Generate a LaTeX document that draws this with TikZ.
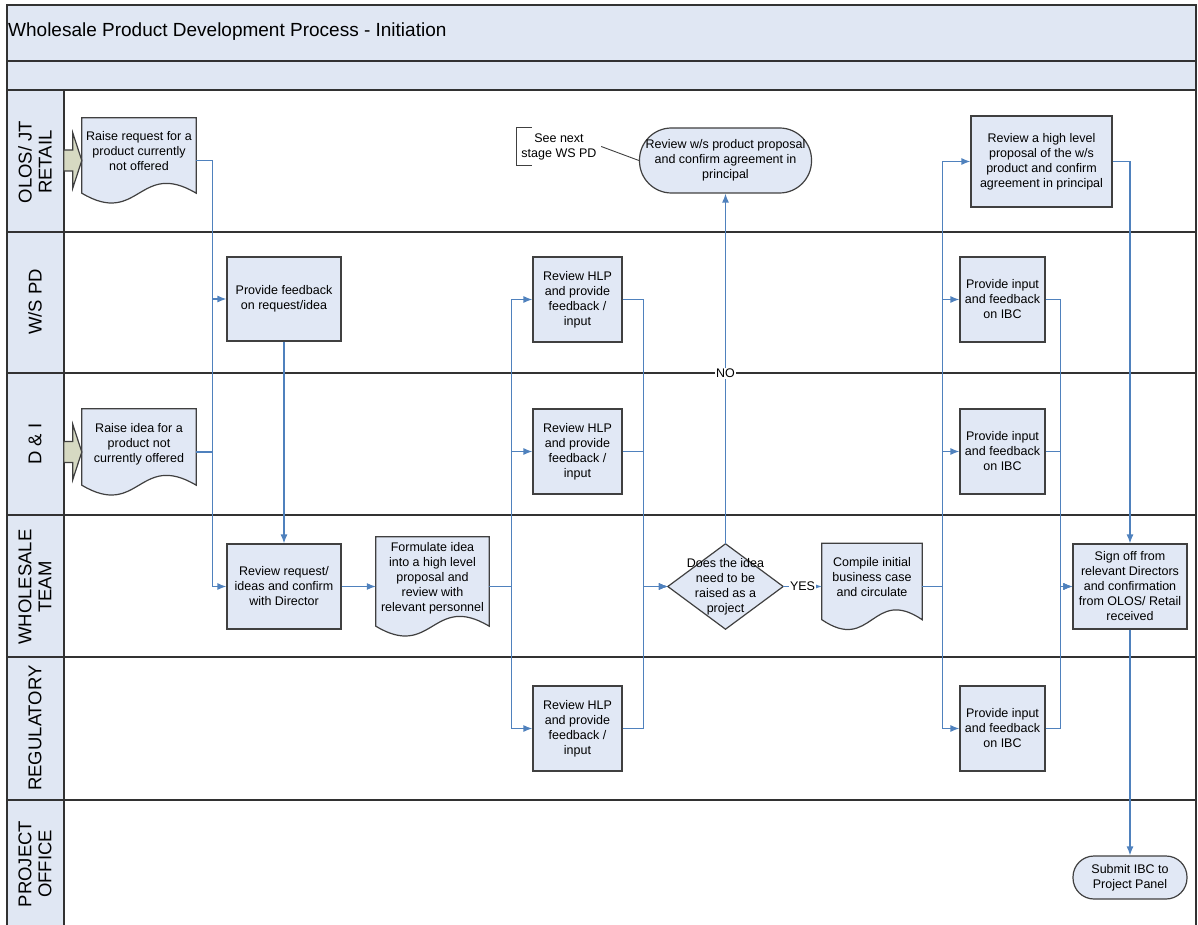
\documentclass[tikz,border=0pt]{standalone}
\usepackage{fontspec}
\setmainfont{Liberation Sans}
\usetikzlibrary{arrows.meta,backgrounds}

\definecolor{panefill}{RGB}{224,231,243}
\definecolor{taskfill}{RGB}{225,232,245}
\definecolor{taskline}{RGB}{64,64,64}
\definecolor{laneline}{RGB}{50,50,50}
\definecolor{flowblue}{RGB}{79,129,189}
\definecolor{inputfill}{RGB}{214,217,194}

\newcommand{\taskfont}{\fontsize{12.5}{15}\selectfont}
\newcommand{\lanefont}{\fontsize{18.5}{20}\selectfont}
%% pushes the text of a document shape above its wavy edge
\newcommand{\docgap}{\\[4pt]\mbox{}}

\tikzset{
    pane/.style={fill=panefill, draw=laneline, line width=1.6pt},
    lanerule/.style={draw=laneline, line width=1.6pt},
    lanename/.style={rotate=90, font=\lanefont, align=center},
    task/.style={draw=taskline, fill=taskfill, line width=1.2pt,
        font=\taskfont, align=center, inner sep=1pt},
    terminal/.style={task, rounded corners=#1},
    terminal/.default=20pt,
    doctext/.style={font=\taskfont, align=center, inner sep=1pt},
    docshape/.style={draw=taskline, fill=taskfill, line width=1.2pt},
    flow/.style={draw=flowblue, line width=1.2pt, -{Latex[length=9pt,width=7pt]}},
    wire/.style={draw=flowblue, line width=1.2pt},
    flowlabel/.style={fill=white, inner sep=1pt, font=\taskfont},
}

\begin{document}
\begin{tikzpicture}[x=1pt, y=-1pt]
        \useasboundingbox (0,0) rectangle (1198,925);
        %% Title bands and lane column
        \draw[pane] (7,5) rectangle (1196,61);
        \draw[pane] (7,61) rectangle (1196,90);
        \draw[pane] (7,90) rectangle (64,940);
        \node[anchor=base west, inner sep=0pt, font=\fontsize{19}{22}\selectfont] (title) at (8,37)
            {Wholesale Product Development Process - Initiation};
        %% Lanes
        \draw[lanerule] (1196,90) -- (1196,940);
        \foreach \y in {232,373,515,657,800}
            \draw[lanerule] (7,\y) -- (1196,\y);
        \node[lanename] (olos) at (35,162) {OLOS/ JT\\RETAIL};
        \node[lanename] (wspd) at (35,302) {W/S PD};
        \node[lanename] (dandi) at (35,444) {D \& I};
        \node[lanename] (wsteam) at (35,587) {WHOLESALE\\TEAM};
        \node[lanename] (reg) at (35,728) {REGULATORY};
        \node[lanename] (pmo) at (35,864) {PROJECT\\OFFICE};

        %% Requests and ideas
        \node[doctext, minimum width=114, minimum height=85] (req) at (139,160.5)
            {Raise request for a\\product currently\\not offered\docgap};
        \node[doctext, minimum width=114, minimum height=86] (idea) at (139,452)
            {Raise idea for a\\product not\\currently offered\docgap};
        \foreach \n in {req,idea}
            \draw[docshape, fill=inputfill] (\n.west) -- ++(-9,-27.5) -- ++(0,17) -- ++(-9,0)
                -- ++(0,21) -- ++(9,0) -- ++(0,17) -- cycle;
        \node[task, minimum width=114, minimum height=84] (fb) at (284,299)
            {Provide feedback\\on request/idea};
        \node[task, minimum width=114, minimum height=85] (rev) at (284,586.5)
            {Review request/\\ideas and confirm\\with Director};
        \node[doctext, minimum width=113, minimum height=99] (form) at (432.5,586.5)
            {Formulate idea\\into a high level\\proposal and\\review with\\relevant personnel\docgap};

        %% HLP reviews
        \node[task, minimum width=89, minimum height=85] (hlpa) at (577.5,299.5)
            {Review HLP\\and provide\\feedback /\\input};
        \node[task, minimum width=89, minimum height=85] (hlpb) at (577.5,451.5)
            {Review HLP\\and provide\\feedback /\\input};
        \node[task, minimum width=89, minimum height=85] (hlpc) at (577.5,728.5)
            {Review HLP\\and provide\\feedback /\\input};

        %% Decision
        \node[doctext, minimum width=115, minimum height=85] (dec) at (725.5,586.5)
            {Does the idea\\need to be\\raised as a\\project};
        \node[task, terminal=32pt, minimum width=172, minimum height=65] (wsrev) at (725.5,160.5)
            {Review w/s product proposal\\and confirm agreement in\\principal};
        \node[doctext, minimum width=84, minimum height=37] (seenext) at (559,146.5)
            {See next\\stage WS PD};
        \draw[taskline, line width=0.9pt] ([xshift=15pt]seenext.north west) -- (seenext.north west)
            -- (seenext.south west) -- ([xshift=15pt]seenext.south west);
        \draw[taskline, line width=0.9pt] (seenext.east) -- (wsrev.west);

        %% Business case
        \node[doctext, minimum width=100, minimum height=86] (ibc) at (872,586.5)
            {Compile initial\\business case\\and circulate\docgap};
        \node[task, minimum width=141, minimum height=91] (hlrev) at (1041.5,161.5)
            {Review a high level\\proposal of the w/s\\product and confirm\\agreement in principal};
        \node[task, minimum width=85, minimum height=85] (ina) at (1002.5,299.5)
            {Provide input\\and feedback\\on IBC};
        \node[task, minimum width=85, minimum height=85] (inb) at (1002.5,451.5)
            {Provide input\\and feedback\\on IBC};
        \node[task, minimum width=85, minimum height=85] (inc) at (1002.5,728.5)
            {Provide input\\and feedback\\on IBC};
        \node[task, minimum width=114, minimum height=85] (sign) at (1130,586.5)
            {Sign off from\\relevant Directors\\and confirmation\\from OLOS/ Retail\\received};
        \node[task, terminal=21pt, minimum width=114, minimum height=43] (submit) at (1130,877.5)
            {Submit IBC to\\Project Panel};

        %% Document and decision outlines
        \begin{scope}[on background layer]
            \foreach \n in {req,idea,form,ibc}
                \draw[docshape] (\n.north west) -- (\n.north east) -- ([yshift=10pt]\n.south east)
                    .. controls ([yshift=44pt]\n.south) and ([yshift=-24pt]\n.south) .. ([yshift=10pt]\n.south west)
                    -- cycle;
            \draw[docshape] (dec.north) -- (dec.east) -- (dec.south) -- (dec.west) -- cycle;
        \end{scope}

        %% Connectors
        \draw[flow] (req.east) -- ++(16,0) |- (fb.west);
        \draw[flow] (req.east) -- ++(16,0) |- (rev.west);
        \draw[wire] (idea.east) -- ++(16,0);
        \draw[flow] (fb) -- (rev);
        \draw[flow] (rev) -- (form);
        \foreach \n in {hlpa,hlpb,hlpc} {
            \draw[flow] (form.east) -- ++(22,0) |- (\n.west);
            \draw[flow] (\n.east) -- ++(21,0) |- (dec.west);
        }
        \draw[flow] (dec) -- (wsrev) node[flowlabel, pos=0.487] (no) {NO};
        \draw[flow] (dec) -- (ibc) node[flowlabel, midway] (yes) {YES};
        \foreach \n in {hlrev,ina,inb,inc}
            \draw[flow] (ibc.east) -- ++(20,0) |- (\n.west);
        \foreach \n in {ina,inb,inc}
            \draw[flow] (\n.east) -- ++(15,0) |- (sign.west);
        \draw[flow] (hlrev.east) -| (sign.north);
        \draw[flow] (sign) -- (submit);
\end{tikzpicture}
\end{document}
